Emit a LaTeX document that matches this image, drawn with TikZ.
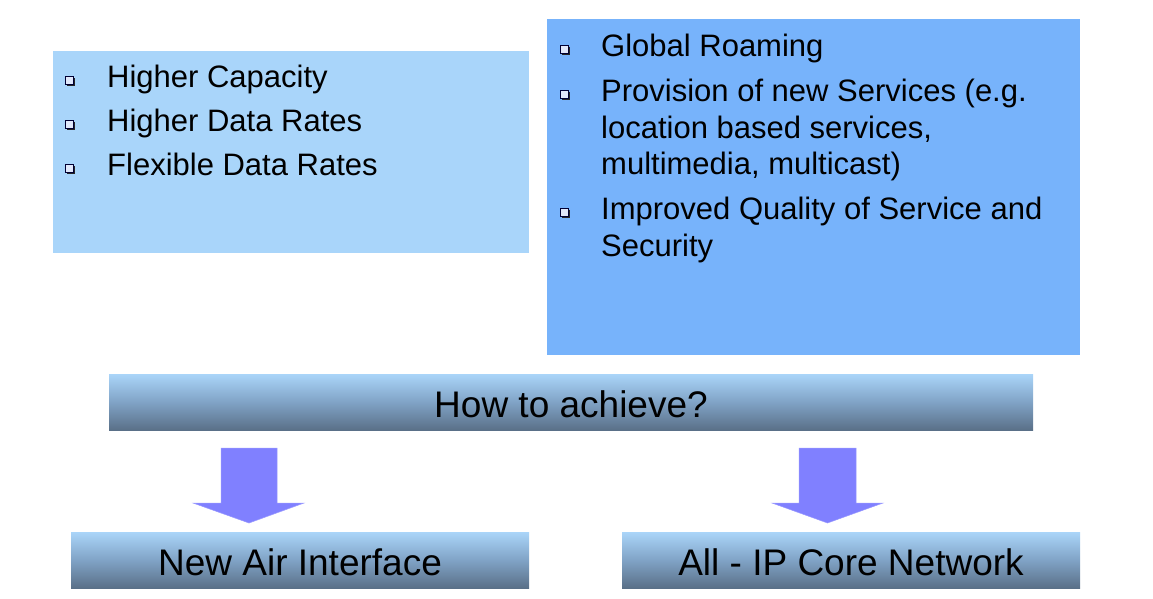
\documentclass[tikz,border=0pt]{standalone}
\usepackage{fontspec}
\setmainfont{Liberation Sans}
\definecolor{boxA}{RGB}{169,213,250}
\definecolor{boxB}{RGB}{119,179,251}
\definecolor{barTop}{RGB}{170,213,249}
\definecolor{barMid}{RGB}{128,163,198}
\definecolor{barBot}{RGB}{90,112,136}
\definecolor{arrowC}{RGB}{128,128,255}
\definecolor{bulIn}{RGB}{225,232,250}
\tikzset{
  txt/.style={anchor=base west, inner sep=0pt, font=\fontsize{31}{37}\selectfont},
  bartxt/.style={inner sep=0pt, font=\fontsize{37}{44}\selectfont},
  bar/.style={top color=barTop, bottom color=barBot, middle color=barMid},
  fatarrow/.style={fill=arrowC, draw=arrowC!80!white, line width=0.5pt}
}
\newcommand{\mybul}[2]{%
  \fill[black!85] (#1-2.5,#2-2.5) rectangle (#1+5.5,#2+5.5);
  \draw[fill=bulIn, draw=black!80!blue, line width=0.9pt] (#1-4,#2-4) rectangle (#1+4,#2+4);}
\begin{document}
\begin{tikzpicture}[x=1pt,y=-1pt]
\useasboundingbox (0,0) rectangle (1153,598);
% boxes
\fill[boxA] (53,51) rectangle (529,253);
\fill[boxB] (547,19) rectangle (1080,355);
% left box text
\mybul{69.5}{80.5}
\node[txt] (t1) at (107,87) {Higher Capacity};
\mybul{69.5}{124.5}
\node[txt] (t2) at (107,131) {Higher Data Rates};
\mybul{69.5}{168.5}
\node[txt] (t3) at (107,175) {Flexible Data Rates};
% right box text
\mybul{564.5}{49.5}
\node[txt] (r1) at (601,56) {Global Roaming};
\mybul{564.5}{94.5}
\node[txt] (r2) at (601,101) {Provision of new Services (e.g.};
\node[txt] (r3) at (601,138) {location based services,};
\node[txt] (r4) at (601,174) {multimedia, multicast)};
\mybul{564.5}{212.5}
\node[txt] (r5) at (601,219) {Improved Quality of Service and};
\node[txt] (r6) at (601,256) {Security};
% bars
\shade[bar] (109,374) rectangle (1033,430);
\node[bartxt] (how) at (571,404) {How to achieve?};
\shade[bar] (71,532) rectangle (529,588);
\node[bartxt] (air) at (300,562) {New Air Interface};
\shade[bar] (622,532) rectangle (1080,588);
\node[bartxt] (ip) at (851,562) {All - IP Core Network};
% arrows
\filldraw[fatarrow] (221,448) -- (277,448) -- (277,503) -- (304,503) -- (249,523) -- (193,503) -- (221,503) -- cycle;
\filldraw[fatarrow] (799,448) -- (856,448) -- (856,503) -- (883,503) -- (827.5,523) -- (772,503) -- (799,503) -- cycle;
\end{tikzpicture}
\end{document}
